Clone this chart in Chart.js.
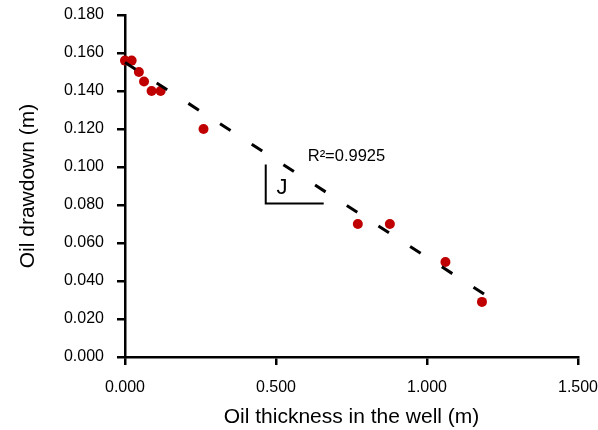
<!DOCTYPE html>
<html>
<head>
<meta charset="utf-8">
<script src="https://cdn.jsdelivr.net/npm/chart.js@4"></script>
<style>
  html, body { margin: 0; padding: 0; background: #ffffff; }
  #wrap { width: 598px; height: 430px; }
</style>
</head>
<body>
<div id="wrap"><canvas id="mychart"></canvas></div>
<script>
// measured points
const thickness = [0, 0.022, 0.046, 0.063, 0.088, 0.118, 0.260, 0.771, 0.877, 1.061, 1.182];
const drawdown = [0.156, 0.156, 0.150, 0.145, 0.140, 0.140, 0.120, 0.070, 0.070, 0.050, 0.029];

// linear trend line end points
const trendX = [0, 1.19];
const trendY = [0.155, 0.033];

const xTicks = [0, 0.5, 1.0, 1.5];
const yTicks = [0, 0.02, 0.04, 0.06, 0.08, 0.10, 0.12, 0.14, 0.16, 0.18];

const rSquaredLabel = 'R²=0.9925';
const rSquaredAt = [0.605, 0.1056];
const slopeLabel = 'J';
const slopeLabelAt = [0.52, 0.089];
const slopeCorner = [0.466, 0.0808];
const slopeTop = 0.1013;
const slopeRight = 0.658;

const FONT = '"Liberation Sans", Arial, sans-serif';

const notes = {
    id: 'notes',
    afterDatasetsDraw(chart) {
        const {ctx, scales: {x, y}} = chart;
        ctx.save();
        ctx.fillStyle = '#000000';
        ctx.strokeStyle = '#000000';
        ctx.textBaseline = 'middle';
        ctx.font = '16.5px ' + FONT;
        ctx.textAlign = 'left';
        ctx.fillText(rSquaredLabel, x.getPixelForValue(rSquaredAt[0]), y.getPixelForValue(rSquaredAt[1]));
        ctx.font = '22px ' + FONT;
        ctx.textAlign = 'center';
        ctx.fillText(slopeLabel, x.getPixelForValue(slopeLabelAt[0]), y.getPixelForValue(slopeLabelAt[1]));
        ctx.lineWidth = 2;
        ctx.beginPath();
        ctx.moveTo(x.getPixelForValue(slopeCorner[0]), y.getPixelForValue(slopeTop));
        ctx.lineTo(x.getPixelForValue(slopeCorner[0]), y.getPixelForValue(slopeCorner[1]));
        ctx.lineTo(x.getPixelForValue(slopeRight), y.getPixelForValue(slopeCorner[1]));
        ctx.stroke();
        ctx.restore();
    }
};

const ctx = document.getElementById('mychart');
var chart = new Chart(ctx, {
    type: 'scatter',
    data: {
        datasets: [
            {
                type: 'line',
                data: trendX.map((v, i) => ({x: v, y: trendY[i]})),
                borderColor: '#000000',
                borderWidth: 3,
                borderDash: [12.5, 25.2],
                pointRadius: 0,
                fill: false,
                clip: false,
            },
            {
                data: thickness.map((v, i) => ({x: v, y: drawdown[i]})),
                backgroundColor: '#c00000',
                borderWidth: 0,
                pointRadius: 5,
                clip: false,
            },
        ],
    },
    options: {
        responsive: true,
        maintainAspectRatio: false,
        animation: false,
        layout: {
            padding: {
                top: 15,
                left: 10,
                right: 0,
                bottom: 0,
            },
        },
        scales: {
            x: {
                type: 'linear',
                min: 0,
                max: 1.5,
                afterBuildTicks: axis => { axis.ticks = xTicks.map(v => ({value: v})); },
                afterFit: axis => {
                    axis.height = 73;
                    axis.paddingLeft = 0;
                    axis.paddingRight = 20;
                },
                grid: {
                    drawOnChartArea: false,
                    tickLength: 8,
                    lineWidth: 2.5,
                    color: '#000000',
                },
                border: {
                    color: '#000000',
                    width: 2.5,
                },
                ticks: {
                    padding: 13,
                    color: '#000000',
                    font: {family: FONT, size: 16},
                    callback: v => v.toFixed(3),
                },
                title: {
                    display: true,
                    text: 'Oil thickness in the well (m)',
                    color: '#000000',
                    font: {family: FONT, size: 21},
                    padding: {top: 0, bottom: 0},
                },
            },
            y: {
                type: 'linear',
                min: 0,
                max: 0.18,
                afterBuildTicks: axis => { axis.ticks = yTicks.map(v => ({value: v})); },
                afterFit: axis => {
                    axis.width = 115;
                    axis.paddingTop = 0;
                    axis.paddingBottom = 0;
                },
                grid: {
                    drawOnChartArea: false,
                    tickLength: 8,
                    lineWidth: 2.5,
                    color: '#000000',
                },
                border: {
                    color: '#000000',
                    width: 2.5,
                },
                ticks: {
                    padding: 13,
                    color: '#000000',
                    font: {family: FONT, size: 16},
                    callback: v => v.toFixed(3),
                },
                title: {
                    display: true,
                    text: 'Oil drawdown (m)',
                    color: '#000000',
                    font: {family: FONT, size: 21},
                    padding: {top: 6, bottom: 0},
                },
            }
        },
        plugins: {
            legend: {
                display: false,
            },
            tooltip: {
                enabled: false,
            },
        },
    },
    plugins: [notes],
});
</script>
</body>
</html>
